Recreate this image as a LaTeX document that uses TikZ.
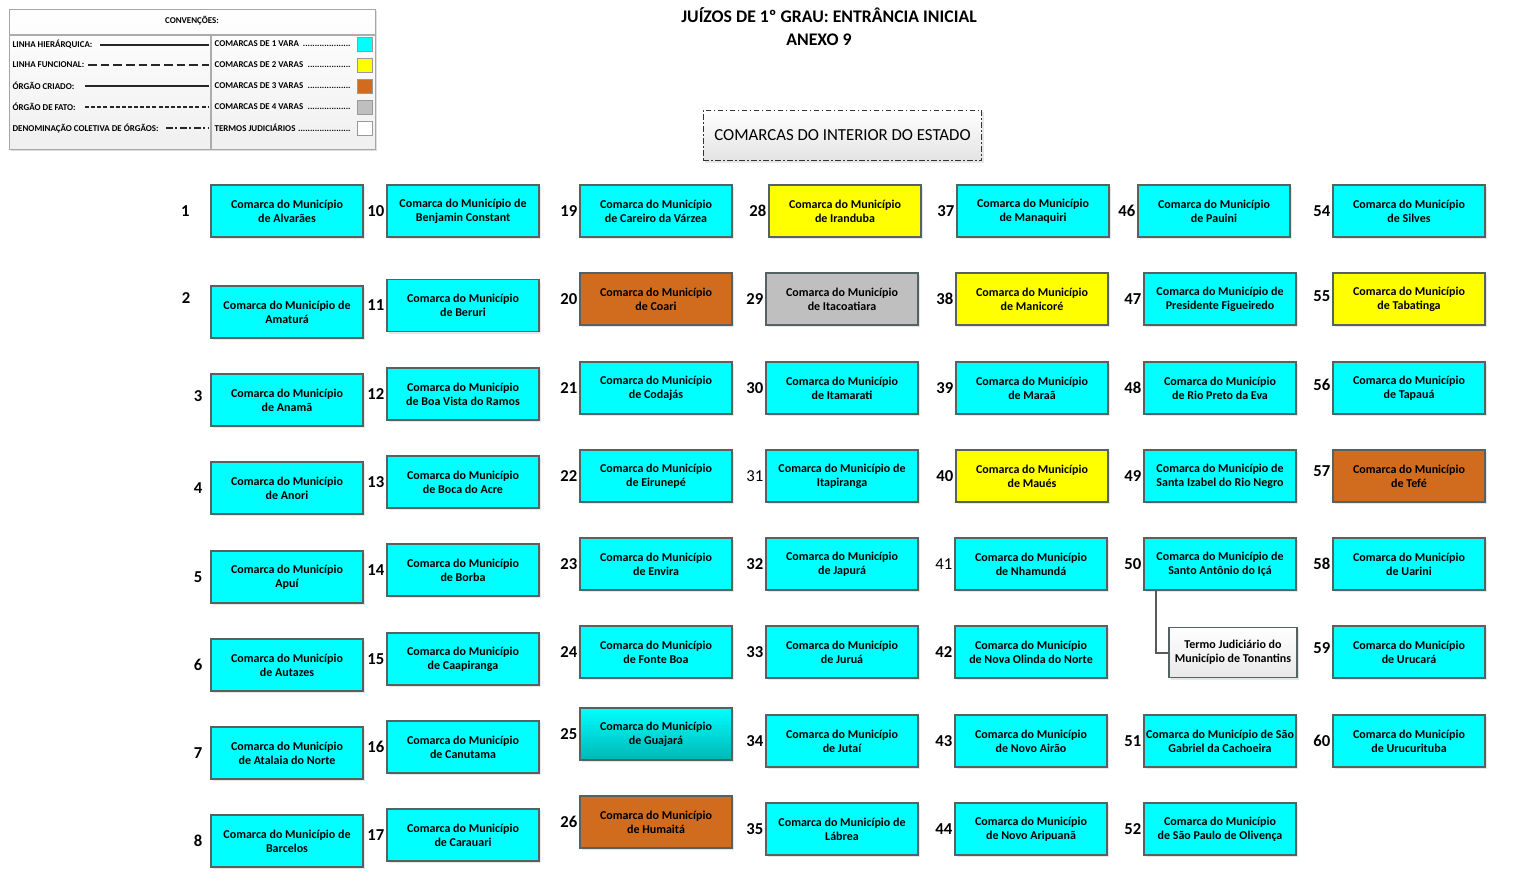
\documentclass[tikz,border=0pt]{standalone}
\usepackage{fontspec}
\setmainfont{Carlito}
\usepackage{xcolor}
\usepackage{tikz}
\usetikzlibrary{shadows}
\definecolor{cvara}{RGB}{0,255,255}
\definecolor{cvaradark}{RGB}{0,182,182}
\definecolor{dvara}{RGB}{255,255,0}
\definecolor{tvara}{RGB}{209,107,29}
\definecolor{qvara}{RGB}{191,191,191}
\definecolor{boxline}{RGB}{84,98,98}
\newcommand\legdots{\leaders\hbox{.}\hfill}

\begin{document}
\begin{tikzpicture}[x=0.75pt, y=-0.75pt,
  comarca/.style={draw=boxline, line width=0.8pt, fill=cvara, minimum width=114pt,
    minimum height=39pt, align=center, inner sep=1pt,
    font=\bfseries\fontsize{9}{10.5}\selectfont,
    drop shadow={shadow xshift=1.5pt, shadow yshift=-1.5pt, opacity=0.2}},
  num/.style={font=\bfseries\fontsize{12.5}{14}\selectfont, inner sep=0.5pt, xshift=-1pt},
  numlight/.style={font=\fontsize{12.5}{14}\selectfont, inner sep=0.5pt, xshift=-1pt},
  legtxt/.style={font=\bfseries\fontsize{6.7}{8}\selectfont, inner sep=1pt},
  swatch/.style={draw=gray!80, minimum width=11pt, minimum height=10.5pt, inner sep=0pt},
  legline/.style={black!85, line width=0.9pt}]
\useasboundingbox (0,0) rectangle (1517,882);
% conventions
\draw[draw=gray!70, top color=white, bottom color=gray!12,
  drop shadow={shadow xshift=1.5pt, shadow yshift=-1.5pt, opacity=0.25}] (9,9) rectangle (375,149);
\draw[gray!65, line width=1.2pt] (9,35) -- (375,35);
\draw[gray!65, line width=1.5pt] (211,35) -- (211,149);
\node[legtxt] (conv) at (192,21) {CONVENÇÕES:};
\node[legtxt, anchor=west] (lhier) at (11,44) {LINHA HIERÁRQUICA:};
\node[legtxt, anchor=west] (lfunc) at (11,65) {LINHA FUNCIONAL:};
\node[legtxt, anchor=west] (ocri) at (11,86) {ÓRGÃO CRIADO:};
\node[legtxt, anchor=west] (ofat) at (11,107) {ÓRGÃO DE FATO:};
\node[legtxt, anchor=west] (dcol) at (11,128) {DENOMINAÇÃO COLETIVA DE ÓRGÃOS:};
\draw[legline] (100,45) -- (209,45);
\draw[legline, dash pattern=on 6.5pt off 3pt] (88,65) -- (209,65);
\draw[legline] (85,86) -- (209,86);
\draw[legline, dash pattern=on 3pt off 1.6pt] (85,107) -- (209,107);
\draw[legline, dash pattern=on 5pt off 2pt on 1.5pt off 2pt] (166,128) -- (209,128);
\node[legtxt, anchor=west] (v1) at (213,44) {\makebox[103pt][l]{COMARCAS DE 1 VARA \legdots}};
\node[legtxt, anchor=west] (v2) at (213,65) {\makebox[103pt][l]{COMARCAS DE 2 VARAS \legdots}};
\node[legtxt, anchor=west] (v3) at (213,86) {\makebox[103pt][l]{COMARCAS DE 3 VARAS \legdots}};
\node[legtxt, anchor=west] (v4) at (213,107) {\makebox[103pt][l]{COMARCAS DE 4 VARAS \legdots}};
\node[legtxt, anchor=west] (vt) at (213,128) {\makebox[103pt][l]{TERMOS JUDICIÁRIOS \legdots}};
\node[swatch, fill=cvara] (s1) at (364.5,44) {};
\node[swatch, fill=dvara] (s2) at (364.5,65) {};
\node[swatch, fill=tvara] (s3) at (364.5,86) {};
\node[swatch, fill=qvara] (s4) at (364.5,107) {};
\node[swatch, fill=white] (st) at (364.5,128) {};
% title
\node[font=\bfseries\fontsize{13.3}{15}\selectfont] (titulo) at (829,15) {JUÍZOS DE 1º GRAU: ENTRÂNCIA INICIAL};
\node[font=\bfseries\fontsize{13.3}{15}\selectfont] (anexo) at (819,40) {ANEXO 9};
\node[draw=black!80, line width=0.9pt, dash pattern=on 4pt off 2pt on 1pt off 2pt,
  top color=white, bottom color=gray!22, minimum width=209pt, minimum height=38pt,
  font=\fontsize{12.6}{14}\selectfont,
  drop shadow={shadow xshift=1.5pt, shadow yshift=-1.5pt, opacity=0.2}] (interior) at (842.5,135.5)
  {COMARCAS DO INTERIOR DO ESTADO};
% column 1
\node[comarca, label={[num,xshift=-14pt]left:1}] (c1) at (287,211) {Comarca do Município\\de Alvarães};
\node[comarca, label={[num,xshift=-13.5pt,yshift=10.5pt]left:2}] (c2) at (287,312) {Comarca do Município de\\Amaturá};
\node[comarca, label={[num,xshift=-4.5pt,yshift=3pt]left:3}] (c3) at (287,400) {Comarca do Município\\de Anamã};
\node[comarca, label={[num,xshift=-4.5pt]left:4}] (c4) at (287,488) {Comarca do Município\\de Anori};
\node[comarca, label={[num,xshift=-4.5pt]left:5}] (c5) at (287,577) {Comarca do Município\\Apuí};
\node[comarca, label={[num,xshift=-4.5pt]left:6}] (c6) at (287,665) {Comarca do Município\\de Autazes};
\node[comarca, label={[num,xshift=-4.5pt]left:7}] (c7) at (287,753) {Comarca do Município\\de Atalaia do Norte};
\node[comarca, label={[num,xshift=-4.5pt]left:8}] (c8) at (287,841) {Comarca do Município de\\Barcelos};
% column 2
\node[comarca, label={[num]left:10}] (c10) at (463,211) {Comarca do Município de\\Benjamin Constant};
\node[comarca, label={[num]left:11}] (c11) at (463,305.5) {Comarca do Município\\de Beruri};
\node[comarca, label={[num]left:12}] (c12) at (463,394) {Comarca do Município\\de Boa Vista do Ramos};
\node[comarca, label={[num]left:13}] (c13) at (463,482) {Comarca do Município\\de Boca do Acre};
\node[comarca, label={[num]left:14}] (c14) at (463,570) {Comarca do Município\\de Borba};
\node[comarca, label={[num]left:15}] (c15) at (463,659) {Comarca do Município\\de Caapiranga};
\node[comarca, label={[num]left:16}] (c16) at (463,747) {Comarca do Município\\de Canutama};
\node[comarca, label={[num]left:17}] (c17) at (463,835) {Comarca do Município\\de Carauari};
% column 3
\node[comarca, label={[num]left:19}] (c19) at (656,211) {Comarca do Município\\de Careiro da Várzea};
\node[comarca, fill=tvara, label={[num]left:20}] (c20) at (656,299) {Comarca do Município\\de Coari};
\node[comarca, label={[num]left:21}] (c21) at (656,388) {Comarca do Município\\de Codajás};
\node[comarca, label={[num]left:22}] (c22) at (656,476) {Comarca do Município\\de Eirunepé};
\node[comarca, label={[num]left:23}] (c23) at (656,564) {Comarca do Município\\de Envira};
\node[comarca, label={[num]left:24}] (c24) at (656,652) {Comarca do Município\\de Fonte Boa};
\node[comarca, top color=cvara, bottom color=cvaradark, label={[num]left:25}] (c25) at (656,734) {Comarca do Município\\de Guajará};
\node[comarca, fill=tvara, label={[num]left:26}] (c26) at (656,822) {Comarca do Município\\de Humaitá};
% column 4
\node[comarca, fill=dvara, label={[num]left:28}] (c28) at (845,211) {Comarca do Município\\de Iranduba};
\node[comarca, fill=qvara, label={[num]left:29}] (c29) at (842,299) {Comarca do Município\\de Itacoatiara};
\node[comarca, label={[num]left:30}] (c30) at (842,388) {Comarca do Município\\de Itamarati};
\node[comarca, label={[numlight]left:31}] (c31) at (842,476) {Comarca do Município de\\Itapiranga};
\node[comarca, label={[num]left:32}] (c32) at (842,564) {Comarca do Município\\de Japurá};
\node[comarca, label={[num]left:33}] (c33) at (842,652) {Comarca do Município\\de Juruá};
\node[comarca, label={[num]left:34}] (c34) at (842,741) {Comarca do Município\\de Jutaí};
\node[comarca, label={[num]left:35}] (c35) at (842,829) {Comarca do Município de\\Lábrea};
% column 5
\node[comarca, label={[num]left:37}] (c37) at (1033,211) {Comarca do Município\\de Manaquiri};
\node[comarca, fill=dvara, label={[num]left:38}] (c38) at (1032,299) {Comarca do Município\\de Manicoré};
\node[comarca, label={[num]left:39}] (c39) at (1032,388) {Comarca do Município\\de Maraã};
\node[comarca, fill=dvara, label={[num]left:40}] (c40) at (1032,476) {Comarca do Município\\de Maués};
\node[comarca, label={[numlight]left:41}] (c41) at (1031,564) {Comarca do Município\\de Nhamundá};
\node[comarca, label={[num]left:42}] (c42) at (1031,652) {Comarca do Município\\de Nova Olinda do Norte};
\node[comarca, label={[num]left:43}] (c43) at (1031,741) {Comarca do Município\\de Novo Airão};
\node[comarca, label={[num]left:44}] (c44) at (1031,829) {Comarca do Município\\de Novo Aripuanã};
% column 6
\node[comarca, label={[num]left:46}] (c46) at (1214,211) {Comarca do Município\\de Pauini};
\node[comarca, label={[num]left:47}] (c47) at (1220,299) {Comarca do Município de\\Presidente Figueiredo};
\node[comarca, label={[num]left:48}] (c48) at (1220,388) {Comarca do Município\\de Rio Preto da Eva};
\node[comarca, label={[num]left:49}] (c49) at (1220,476) {Comarca do Município de\\Santa Izabel do Rio Negro};
\node[comarca, label={[num]left:50}] (c50) at (1220,564) {Comarca do Município de\\Santo Antônio do Içá};
\node[comarca, top color=white, bottom color=gray!18, minimum width=96pt, minimum height=38pt] (termo) at (1233,652.5) {Termo Judiciário do\\Município de Tonantins};
\node[comarca, label={[num]left:51}] (c51) at (1220,741) {Comarca do Município de São\\Gabriel da Cachoeira};
\node[comarca, label={[num]left:52}] (c52) at (1220,829) {Comarca do Município\\de São Paulo de Olivença};
% column 7
\node[comarca, label={[num]left:54}] (c54) at (1409,211) {Comarca do Município\\de Silves};
\node[comarca, fill=dvara, label={[num,yshift=2pt]left:55}] (c55) at (1409,299) {Comarca do Município\\de Tabatinga};
\node[comarca, label={[num,yshift=2pt]left:56}] (c56) at (1409,388) {Comarca do Município\\de Tapauá};
\node[comarca, fill=tvara, label={[num,yshift=3.5pt]left:57}] (c57) at (1409,476) {Comarca do Município\\de Tefé};
\node[comarca, label={[num]left:58}] (c58) at (1409,564) {Comarca do Município\\de Uarini};
\node[comarca, label={[num,yshift=3pt]left:59}] (c59) at (1409,652) {Comarca do Município\\de Urucará};
\node[comarca, label={[num]left:60}] (c60) at (1409,741) {Comarca do Município\\de Urucurituba};
% termo link
\draw[black!65, line width=1.5pt] ([xshift=9.75pt]c50.south west) |- (termo.west);
\end{tikzpicture}
\end{document}
